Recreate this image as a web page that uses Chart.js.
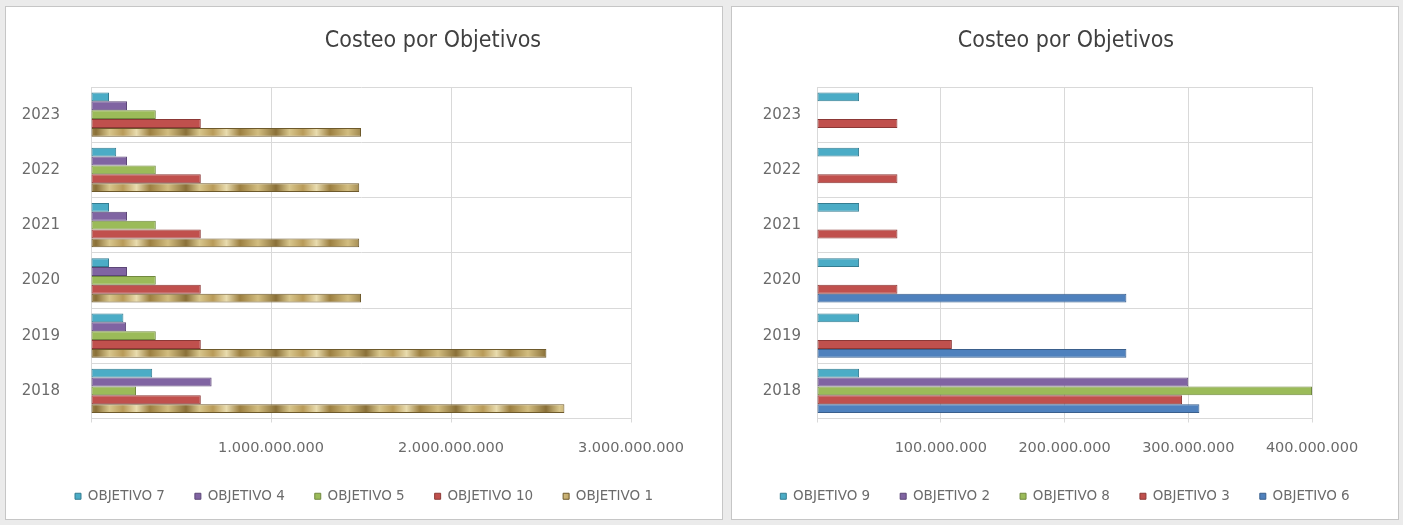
<!DOCTYPE html>
<html>
<head>
<meta charset="utf-8">
<script src="https://cdn.jsdelivr.net/npm/chart.js@4.4.0/dist/chart.umd.min.js"></script>
<style>
  body { margin: 0; background: #ebebeb; width: 1403px; height: 525px; position: relative; overflow: hidden; }
  .panel { position: absolute; top: 6px; height: 514px; background: #fff; border: 1px solid #c6c6c6; box-sizing: border-box; }
  #p1 { left: 5px; width: 718px; }
  #p2 { left: 731px; width: 668px; }
</style>
</head>
<body>
<div class="panel" id="p1"><canvas id="chartLeft"></canvas></div>
<div class="panel" id="p2"><canvas id="chartRight"></canvas></div>
<script>
const years = ['2023', '2022', '2021', '2020', '2019', '2018'];

// left chart
const leftTicks = [0, 1000000000, 2000000000, 3000000000];
const obj7 = [100000000, 140000000, 100000000, 100000000, 180000000, 340000000];
const obj4 = [200000000, 200000000, 200000000, 200000000, 195000000, 670000000];
const obj5 = [360000000, 360000000, 360000000, 360000000, 360000000, 250000000];
const obj10 = [610000000, 610000000, 610000000, 610000000, 610000000, 610000000];
const obj1 = [1500000000, 1490000000, 1490000000, 1500000000, 2530000000, 2630000000];

// right chart
const rightTicks = [0, 100000000, 200000000, 300000000, 400000000];
const obj9 = [34000000, 34000000, 34000000, 34000000, 34000000, 34000000];
const obj2 = [0, 0, 0, 0, 0, 300000000];
const obj8 = [0, 0, 0, 0, 0, 400000000];
const obj3 = [65000000, 65000000, 65000000, 65000000, 109000000, 295000000];
const obj6 = [0, 0, 0, 250000000, 250000000, 309000000];

const GRAY = '#6b6b6b';
const GRID = '#d9d9d9';
const FONT = '"DejaVu Sans", sans-serif';

// gold "texture" for OBJETIVO 1
function goldPattern() {
  const c = document.createElement('canvas');
  c.width = 90; c.height = 4;
  const g = c.getContext('2d');
  const grad = g.createLinearGradient(0, 0, 90, 0);
  grad.addColorStop(0, '#8a7038');
  grad.addColorStop(0.15, '#d8c68c');
  grad.addColorStop(0.3, '#b89a58');
  grad.addColorStop(0.45, '#e9dcae');
  grad.addColorStop(0.6, '#9c7f40');
  grad.addColorStop(0.8, '#d2bd80');
  grad.addColorStop(1, '#8a7038');
  g.fillStyle = grad;
  g.fillRect(0, 0, 90, 4);
  return g.createPattern(c, 'repeat');
}

function fmt(v) {
  if (v === 0) return '';
  return String(v).replace(/\B(?=(\d{3})+(?!\d))/g, '.');
}

const titlePlugin = {
  id: 'posTitle',
  afterDraw(chart, args, opts) {
    const c = chart.ctx;
    c.save();
    c.font = '23px "Liberation Sans Narrow", "DejaVu Sans Condensed", sans-serif';
    c.fillStyle = '#404040';
    c.textAlign = 'center';
    c.textBaseline = 'middle';
    c.fillText(opts.text, opts.x, opts.y);
    c.restore();
  }
};

function makeChart(id, datasets, ticks, opt) {
  return new Chart(document.getElementById(id), {
    type: 'bar',
    data: { labels: years, datasets },
    plugins: [titlePlugin],
    options: {
      indexAxis: 'y',
      responsive: true,
      maintainAspectRatio: false,
      animation: false,
      categoryPercentage: 0.8,
      barPercentage: 1,
      layout: { padding: { top: 80, left: 0, right: 0, bottom: 6 } },
      scales: {
        x: {
          min: 0,
          max: ticks[ticks.length - 1],
          afterBuildTicks: (s) => { s.ticks = ticks.map(v => ({ value: v })); },
          afterFit: (s) => { s.height = 41; },
          grid: { color: GRID, drawTicks: true, tickLength: 4, tickColor: GRID },
          border: { color: GRID },
          ticks: { color: GRAY, font: { size: 14.5, family: FONT }, padding: 17, callback: (v) => fmt(v), maxRotation: 0 },
        },
        y: {
          afterFit: (s) => { s.width = 85; },
          grid: { color: GRID, offset: true, drawTicks: false },
          border: { color: GRID },
          ticks: { color: GRAY, font: { size: 15, family: FONT }, padding: opt.ypad },
        },
        // empty right-hand strip so the legend can still use the full width
        yPad: {
          type: 'category',
          position: 'right',
          grid: { display: false },
          border: { display: false },
          ticks: { display: false },
          afterFit: (s) => { s.width = opt.right; },
        },
      },
      plugins: {
        posTitle: { text: 'Costeo por Objetivos', x: opt.titleX, y: 34 },
        title: { display: false },
        tooltip: { enabled: false },
        legend: {
          position: 'bottom',
          labels: { boxWidth: 6, boxHeight: 6, padding: 30, color: GRAY, font: { size: 13.5, family: FONT } },
        },
      },
    },
  });
}

function ds(label, data, color, border) {
  return { label, data, backgroundColor: color, borderColor: border, borderWidth: 1, borderSkipped: false };
}

makeChart('chartLeft', [
  ds('OBJETIVO 7', obj7, '#4bacc6', '#357d91'),
  ds('OBJETIVO 4', obj4, '#8064a2', '#5c4777'),
  ds('OBJETIVO 5', obj5, '#9bbb59', '#71893f'),
  ds('OBJETIVO 10', obj10, '#c0504d', '#8c3836'),
  ds('OBJETIVO 1', obj1, goldPattern(), '#6e5a2c'),
], leftTicks, { right: 91, ypad: 31, titleX: 427 });

makeChart('chartRight', [
  ds('OBJETIVO 9', obj9, '#4bacc6', '#357d91'),
  ds('OBJETIVO 2', obj2, '#8064a2', '#5c4777'),
  ds('OBJETIVO 8', obj8, '#9bbb59', '#71893f'),
  ds('OBJETIVO 3', obj3, '#c0504d', '#8c3836'),
  ds('OBJETIVO 6', obj6, '#4f81bd', '#3a5f8c'),
], rightTicks, { right: 86, ypad: 16, titleX: 334 });
</script>
</body>
</html>
